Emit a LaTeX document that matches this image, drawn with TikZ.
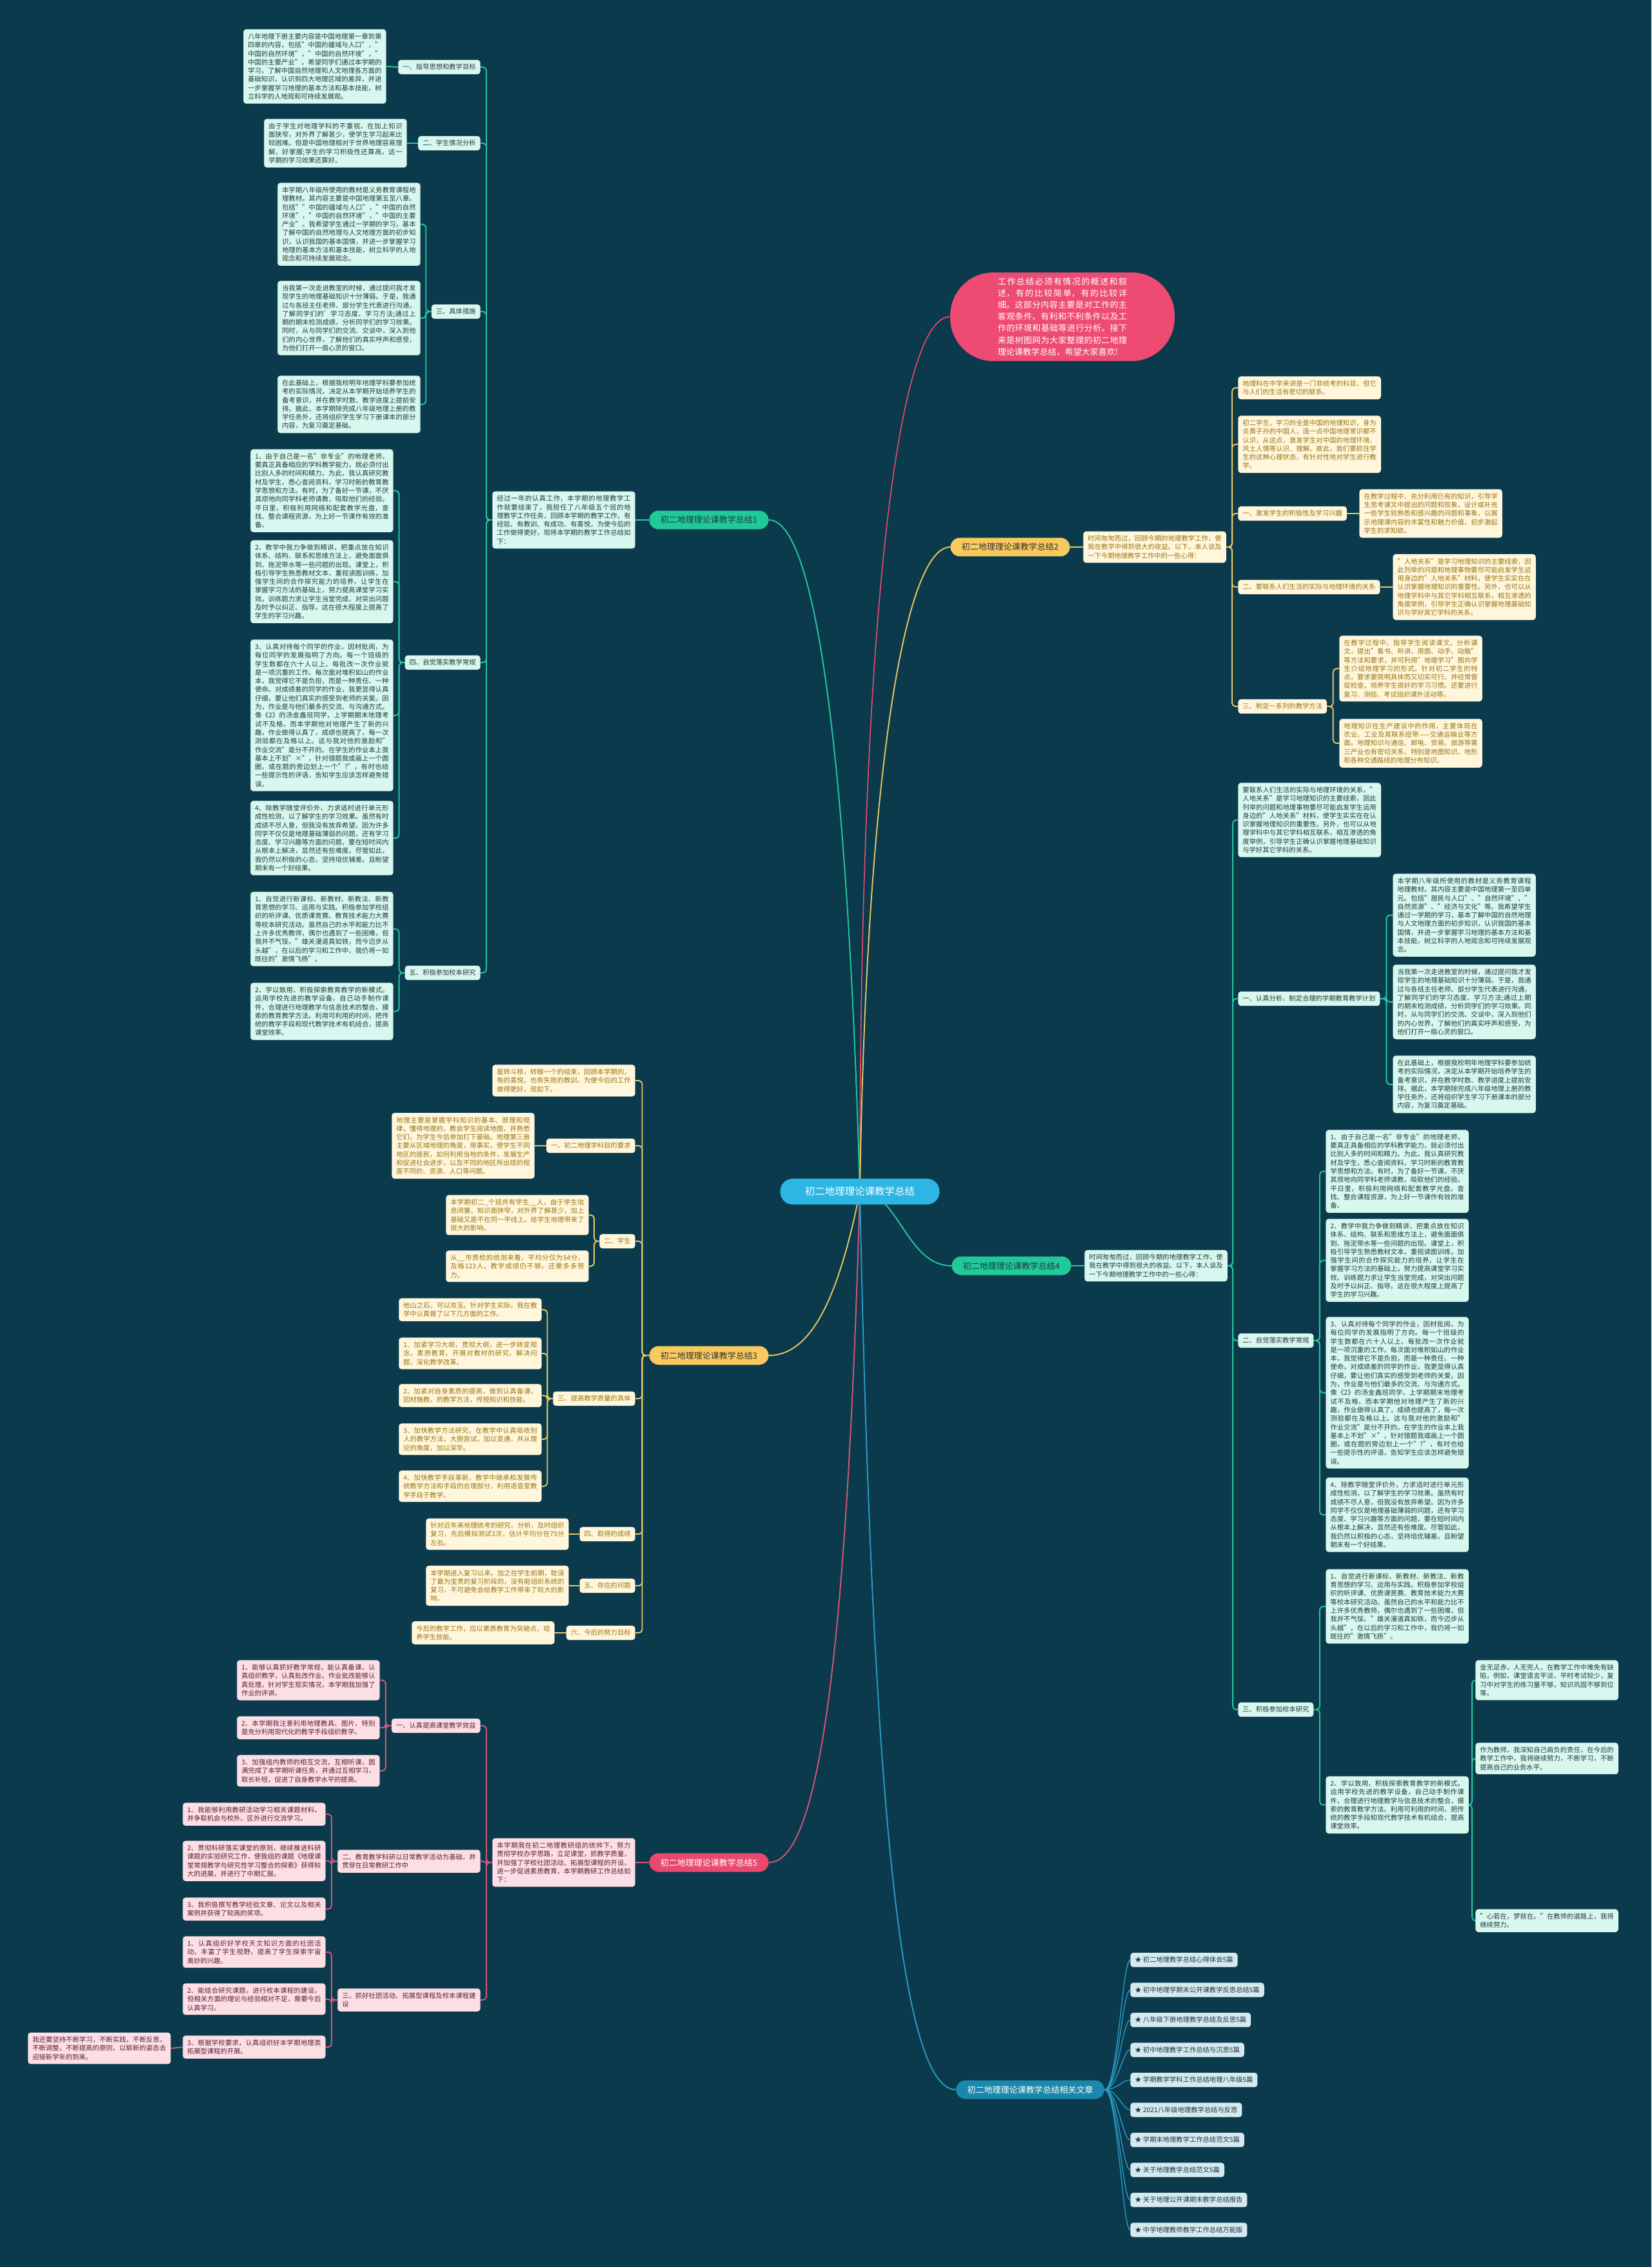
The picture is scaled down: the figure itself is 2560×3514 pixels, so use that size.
\documentclass[tikz,border=0pt]{standalone}
\usepackage{fontspec}
\setmainfont{Noto Sans CJK SC}
\XeTeXlinebreaklocale "zh"
\XeTeXlinebreakskip=0pt plus 0.5pt
\usetikzlibrary{positioning,calc}
\pgfdeclarelayer{back}
\pgfsetlayers{back,main}
\definecolor{night}{HTML}{0A3A4B}
\definecolor{minthub}{HTML}{20C99A}
\definecolor{mintpale}{HTML}{D8F7EE}
\definecolor{mintink}{HTML}{1F3B3E}
\definecolor{mintwire}{HTML}{26C69C}
\definecolor{goldhub}{HTML}{F8CA5E}
\definecolor{goldpale}{HTML}{FFF6DB}
\definecolor{goldink}{HTML}{9A7415}
\definecolor{goldwire}{HTML}{E6C564}
\definecolor{rosehub}{HTML}{E9496F}
\definecolor{rosepale}{HTML}{FCDEE5}
\definecolor{roseink}{HTML}{5B1F30}
\definecolor{rosewire}{HTML}{D4557A}
\definecolor{pinkhub}{HTML}{EE4B72}
\definecolor{bluehub}{HTML}{1C87AB}
\definecolor{bluepale}{HTML}{D5E9F0}
\definecolor{blueink}{HTML}{1E3440}
\definecolor{bluewire}{HTML}{2A9AC6}
\definecolor{cyanhub}{HTML}{2DB5E3}
\newcommand{\routineone}{1、由于自己是一名"非专业"的地理老师，要真正具备相应的学科教学能力，就必须付出比别人多的时间和精力。为此，我认真研究教材及学生，悉心查阅资料，学习时新的教育教学思想和方法。有时，为了备好一节课，不厌其烦地向同学科老师请教，吸取他们的经验。平日里，积极利用网络和配套教学光盘，查找、整合课程资源，为上好一节课作有效的准备。}
\newcommand{\routinetwo}{2、教学中我力争做到精讲，把重点放在知识体系、结构、联系和思维方法上，避免面面俱到、拖泥带水等一些问题的出现。课堂上，积极引导学生熟悉教材文本，重视读图训练，加强学生间的合作探究能力的培养，让学生在掌握学习方法的基础上，努力提高课堂学习实效。训练题力求让学生当堂完成，对突出问题及时予以纠正、指导。这在很大程度上提高了学生的学习兴趣。}
\newcommand{\routinethree}{3、认真对待每个同学的作业，因材批阅，为每位同学的发展指明了方向。每一个班级的学生数都在六十人以上，每批改一次作业就是一项沉重的工作。每次面对堆积如山的作业本，我觉得它不是负担，而是一种责任、一种使命。对成绩差的同学的作业，我更显得认真仔细，要让他们真实的感受到老师的关爱。因为，作业是与他们最多的交流、与沟通方式。像《2》的汤金鑫班同学，上学期期末地理考试不及格，而本学期他对地理产生了新的兴趣，作业做得认真了，成绩也提高了，每一次测验都在及格以上。这与我对他的激励和"作业交流"是分不开的。在学生的作业本上我基本上不划"×"，针对错题我或画上一个圆圈，或在题的旁边划上一个"?"，有时也给一些提示性的评语，告知学生应该怎样避免错误。}
\newcommand{\routinefour}{4、除教学随堂评价外，力求适时进行单元形成性检测，以了解学生的学习效果。虽然有时成绩不尽人意，但我没有放弃希望。因为许多同学不仅仅是地理基础薄弱的问题，还有学习态度、学习兴趣等方面的问题，要在短时间内从根本上解决，显然还有些难度。尽管如此，我仍然以积极的心态，坚持培优辅差。且盼望期末有一个好结果。}
\newcommand{\researchone}{1、自觉进行新课标、新教材、新教法、新教育思想的学习、运用与实践。积极参加学校组织的听评课、优质课竞赛、教育技术能力大赛等校本研究活动。虽然自己的水平和能力比不上许多优秀教师，偶尔也遇到了一些困难，但我并不气馁。"雄关漫道真如铁，而今迈步从头越"，在以后的学习和工作中，我仍将一如既往的"激情飞扬"。}
\newcommand{\researchtwo}{2、学以致用，积极探索教育教学的新模式。运用学校先进的教学设备，自己动手制作课件，合理进行地理教学与信息技术的整合，摸索的教育教学方法。利用可利用的时间，把传统的教学手段和现代教学技术有机结合，提高课堂效率。}
\newcommand{\plantwo}{当我第一次走进教室的时候，通过提问我才发现学生的地理基础知识十分薄弱。于是，我通过与各班主任老师、部分学生代表进行沟通，了解同学们的学习态度、学习方法;通过上期的期末检测成绩，分析同学们的学习效果。同时，从与同学们的交流、交谈中，深入到他们的内心世界，了解他们的真实呼声和感受，为他们打开一扇心灵的窗口。}
\newcommand{\planthree}{在此基础上，根据我校明年地理学科要参加统考的实际情况，决定从本学期开始培养学生的备考意识，并在教学时数、教学进度上提前安排。据此，本学期除完成八年级地理上册的教学任务外，还将组织学生学习下册课本的部分内容，为复习奠定基础。}
\newcommand{\springtext}{时间匆匆而过，回顾今期的地理教学工作，使我在教学中得到很大的收益。以下，本人谈及一下今期地理教学工作中的一些心得：}
\tikzset{
  card/.style={rectangle, rounded corners=2.5pt, inner xsep=4pt, inner ysep=3.6pt,
               font=\fontsize{5.86pt}{7.57pt}\selectfont},
  para/.style={text width=118pt, align=justify},
  gcard/.style={card, fill=mintpale, text=mintink},
  ycard/.style={card, fill=goldpale, text=goldink},
  rcard/.style={card, fill=rosepale, text=roseink},
  bcard/.style={card, fill=bluepale, text=blueink},
  hub/.style={rectangle, rounded corners=8.5pt, fill=#1, inner xsep=10pt, inner ysep=4.8pt,
              font=\fontsize{7.4pt}{9pt}\selectfont},
  wire/.style={draw=#1, line width=1.1pt, rounded corners=3pt},
  elbow/.style={to path={-| ($(\tikztostart)!.5!(\tikztotarget)$) |- (\tikztotarget)}},
}

\begin{document}
\begin{tikzpicture}[x=0.02cm, y=-0.02cm]
  \useasboundingbox (0,0) rectangle (2560,3514);

  % centre et introduction
  \node[hub=cyanhub, text=white, rounded corners=11pt, minimum width=4.94cm, minimum height=0.8cm,
        font=\fontsize{8.8pt}{10pt}\selectfont] (ctr) at (1333,1847) {初二地理理论课教学总结};
  \node[rectangle, rounded corners=38pt, fill=pinkhub, text=white, text width=114pt, align=justify,
        inner xsep=42pt, inner ysep=4.5pt, font=\fontsize{7.4pt}{10.36pt}\selectfont] (intro) at (1647,491)
        {工作总结必须有情况的概述和叙述，有的比较简单，有的比较详细。这部分内容主要是对工作的主客观条件、有利和不利条件以及工作的环境和基础等进行分析。接下来是树图网为大家整理的初二地理理论课教学总结，希望大家喜欢!};

  % branche 1
  \node[hub=minthub, text=mintink] (b1) at (1099,806) {初二地理理论课教学总结1};
  \node[gcard, para, anchor=east] (b1t) at (985,806) {经过一年的认真工作，本学期的地理教学工作就要结束了，我担任了八年级五个班的地理教学工作任务，回顾本学期的教学工作，有经验、有教训、有成功、有喜悦，为使今后的工作做得更好，现将本学期的教学工作总结如下：};
  \node[gcard, anchor=east] (b1a) at (745,104) {一、指导思想和教学目标};
  \node[gcard, para, anchor=east] (b1a1) at (599,103) {八年地理下册主要内容是中国地理第一章到第四章的内容，包括"中国的疆域与人口"，"中国的自然环境"，"中国的自然环境"，"中国的主要产业"，希望同学们通过本学期的学习，了解中国自然地理和人文地理各方面的基础知识，认识到四大地理区域的差异，并进一步掌握学习地理的基本方法和基本技能，树立科学的人地观和可持续发展观。};
  \node[gcard, anchor=east] (b1b) at (745,222) {二、学生情况分析};
  \node[gcard, para, anchor=east] (b1b1) at (631,222) {由于学生对地理学科的不重视，在加上知识面狭窄，对外界了解甚少，使学生学习起来比较困难。但是中国地理相对于世界地理容易理解，好掌握;学生的学习积极性还算高，这一学期的学习效果还算好。};
  \node[gcard, anchor=east] (b1c) at (745,483) {三、具体措施};
  \node[gcard, para, anchor=north east] (b1c1) at (652,283) {本学期八年级所使用的教材是义务教育课程地理教材。其内容主要是中国地理第五至八章。包括""中国的疆域与人口"，"中国的自然环境"，"中国的自然环境"，"中国的主要产业"。我希望学生通过一学期的学习，基本了解中国的自然地理与人文地理方面的初步知识，认识我国的基本国情，并进一步掌握学习地理的基本方法和基本技能，树立科学的人地观念和可持续发展观念。};
  \node[gcard, para, anchor=north east] (b1c2) at (652,435) {当我第一次走进教室的时候，通过提问我才发现学生的地理基础知识十分薄弱。于是，我通过与各班主任老师、部分学生代表进行沟通，了解同学们的'学习态度、学习方法;通过上期的期末检测成绩，分析同学们的学习效果。同时，从与同学们的交流、交谈中，深入到他们的内心世界，了解他们的真实呼声和感受，为他们打开一扇心灵的窗口。};
  \node[gcard, para, anchor=north east] (b1c3) at (652,582) {\planthree};
  \node[gcard, anchor=east] (b1d) at (745,1027) {四、自觉落实教学常规};
  \node[gcard, para, anchor=north east] (b1d1) at (610,696) {\routineone};
  \node[gcard, para, anchor=north east] (b1d2) at (610,837) {\routinetwo};
  \node[gcard, para, anchor=north east] (b1d3) at (610,991) {\routinethree};
  \node[gcard, para, anchor=north east] (b1d4) at (610,1241) {\routinefour};
  \node[gcard, anchor=east] (b1e) at (745,1508) {五、积极参加校本研究};
  \node[gcard, para, anchor=north east] (b1e1) at (610,1382) {\researchone};
  \node[gcard, para, anchor=north east] (b1e2) at (610,1523) {\researchtwo};

  % branche 2
  \node[hub=goldhub, text=black!80] (b2) at (1566,848) {初二地理理论课教学总结2};
  \node[ycard, para, anchor=west] (b2t) at (1679,848) {\springtext};
  \node[ycard, para, anchor=north west] (b2a) at (1919,583) {地理科在中学来讲是一门非统考的科目，但它与人们的生活有密切的联系。};
  \node[ycard, para, anchor=north west] (b2b) at (1919,644) {初二学生，学习的全是中国的地理知识，身为炎黄子孙的中国人，连一点中国地理常识都不认识，从这点，激发学生对中国的地理环境、风土人情等认识、理解。故此，我们要抓住学生的这种心理状态，有针对性地对学生进行教学。};
  \node[ycard, anchor=west] (b2c) at (1919,796) {一、激发学生的积极性及学习兴趣};
  \node[ycard, para, anchor=west] (b2c1) at (2107,796) {在教学过程中，充分利用已有的知识，引导学生思考课文中提出的问题和现象，设计或补充一些学生较熟悉和感兴趣的问题和事象，以展示地理课内容的丰富性和魅力价值，初步激起学生的求知欲。};
  \node[ycard, anchor=west] (b2d) at (1919,910) {二、要联系人们生活的实际与地理环境的关系};
  \node[ycard, para, anchor=west] (b2d1) at (2159,910) {"人地关系"是学习地理知识的主要线索，因此列举的问题和地理事物要尽可能启发学生运用身边的"人地关系"材料，使学生实实在在认识掌握地理知识的重要性。另外，也可以从地理学科中与其它学科相互联系，相互渗透的角度举例，引导学生正确认识掌握地理基础知识与学好其它学科的关系。};
  \node[ycard, anchor=west] (b2e) at (1919,1095) {三、制定一系列的教学方法};
  \node[ycard, para, anchor=north west] (b2e1) at (2076,985) {在教学过程中，指导学生阅读课文，分析课文，提出"看书、听讲、用图、动手、动脑"等方法和要求，并可利用"地理学习"图向学生介绍地理学习的形式。针对初二学生的特点，要求要简明具体而又切实可行。并经常督促检查，培养学生很好的学习习惯。还要进行复习、测验、考试组织课外活动等。};
  \node[ycard, para, anchor=north west] (b2e2) at (2076,1114) {地理知识在生产建设中的作用，主要体现在农业、工业及其联系纽带——交通运输业等方面。地理知识与通信、邮电、贸易、旅游等第三产业也有密切关系，特别是地图知识、地形和各种交通路线的地理分布知识。};

  % branche 3
  \node[hub=goldhub, text=black!80] (b3) at (1099,2101) {初二地理理论课教学总结3};
  \node[ycard, para, anchor=east] (b3o) at (985,1675) {星转斗移，转眼一个的结束，回顾本学期的，有的喜悦，也有失败的教训，为使今后的工作做得更好，现如下。};
  \node[ycard, anchor=east] (b3a) at (985,1776) {一、初二地理学科目的要求};
  \node[ycard, para, anchor=east] (b3a1) at (829,1776) {地理主要是掌握学科知识的基本、原理和规律，懂得地理的，教会学生阅读地图，并熟悉它们，为学生今后参加打下基础。地理第三册主要从区域地理的角度，用事实，使学生不同地区的居民，如何利用当地的条件，发展生产和促进社会进步，以及不同的地区所出现的程度不同的、资源、人口等问题。};
  \node[ycard, anchor=east] (b3b) at (985,1924) {二、学生};
  \node[ycard, para, anchor=north east] (b3b1) at (913,1852) {本学期初二\_个班共有学生\_\_人，由于学生信息闭塞，知识面狭窄，对外界了解甚少，加上基础又是不在同一平线上。给学生地理带来了很大的影响。};
  \node[ycard, para, anchor=north east] (b3b2) at (913,1938) {从\_\_市质检的统测来看，平均分仅为54分，及格123人，教学成绩仍不够，还需多多努力。};
  \node[ycard, anchor=east] (b3c) at (985,2168) {三、提高教学质量的具体};
  \node[ycard, para, anchor=north east] (b3c0) at (840,2012) {他山之石，可以攻玉。针对学生实际，我在教学中认真做了以下几方面的工作。};
  \node[ycard, para, anchor=north east] (b3c1) at (840,2073) {1、加紧学习大纲，贯彻大纲，进一步转变观念，素质教育，开展对教材的研究，解决问题，深化教学改革。};
  \node[ycard, para, anchor=north east] (b3c2) at (840,2145) {2、加紧对自身素质的提高，做到认真备课，因材施教，的教学方法，传授知识和技能。};
  \node[ycard, para, anchor=north east] (b3c3) at (840,2206) {3、加快教学方法研究，在教学中认真吸收别人的教学方法，大胆尝试，加以变通，并从理论的角度，加以深华。};
  \node[ycard, para, anchor=north east] (b3c4) at (840,2279) {4、加快教学手段革新，教学中继承和发展传统教学方法和手段的合理部分，利用语音室教学手段于教学。};
  \node[ycard, anchor=east] (b3d) at (985,2378) {四、取得的成绩};
  \node[ycard, para, anchor=east] (b3d1) at (882,2378) {针对近年来地理统考的研究、分析，及时组织复习，先后模拟测试3次，估计平均分在75分左右。};
  \node[ycard, anchor=east] (b3e) at (985,2458) {五、存在的问题};
  \node[ycard, para, anchor=east] (b3e1) at (882,2458) {本学期进入复习以来，加之在学生前期，耽误了最为宝贵的复习阶段的，没有能组织系统的复习，不可避免会给教学工作带来了较大的影响。};
  \node[ycard, anchor=east] (b3f) at (985,2531) {六、今后的努力目标};
  \node[ycard, para, anchor=east] (b3f1) at (860,2531) {今后的教学工作，应以素质教育为突破点，培养学生技能。};

  % branche 4
  \node[hub=minthub, text=mintink] (b4) at (1568,1962) {初二地理理论课教学总结4};
  \node[gcard, para, anchor=west] (b4t) at (1681,1962) {\springtext};
  \node[gcard, para, anchor=north west] (b4a) at (1919,1213) {要联系人们生活的实际与地理环境的关系，"人地关系"是学习地理知识的主要线索，因此列举的问题和地理事物要尽可能启发学生运用身边的"人地关系"材料，使学生实实在在认识掌握地理知识的重要性。另外，也可以从地理学科中与其它学科相互联系，相互渗透的角度举例，引导学生正确认识掌握地理基础知识与学好其它学科的关系。};
  \node[gcard, anchor=west] (b4b) at (1919,1548) {一、认真分析、制定合理的学期教育教学计划};
  \node[gcard, para, anchor=north west] (b4b1) at (2159,1354) {本学期八年级所使用的教材是义务教育课程地理教材。其内容主要是中国地理第一至四单元。包括"居民与人口"、"自然环境"、"自然资源"、"经济与文化"等。我希望学生通过一学期的学习，基本了解中国的自然地理与人文地理方面的初步知识，认识我国的基本国情，并进一步掌握学习地理的基本方法和基本技能，树立科学的人地观念和可持续发展观念。};
  \node[gcard, para, anchor=north west] (b4b2) at (2159,1495) {\plantwo};
  \node[gcard, para, anchor=north west] (b4b3) at (2159,1636) {\planthree};
  \node[gcard, anchor=west] (b4c) at (1919,2078) {二、自觉落实教学常规};
  \node[gcard, para, anchor=north west] (b4c1) at (2055,1751) {\routineone};
  \node[gcard, para, anchor=north west] (b4c2) at (2055,1889) {\routinetwo};
  \node[gcard, para, anchor=north west] (b4c3) at (2055,2041) {\routinethree};
  \node[gcard, para, anchor=north west] (b4c4) at (2055,2290) {\routinefour};
  \node[gcard, anchor=west] (b4d) at (1919,2650) {三、积极参加校本研究};
  \node[gcard, para, anchor=north west] (b4d1) at (2055,2432) {\researchone};
  \node[gcard, para, anchor=north west] (b4d2) at (2055,2753) {\researchtwo};
  \node[gcard, para, anchor=north west] (b4d21) at (2287,2573) {金无足赤，人无完人，在教学工作中难免有缺陷，例如，课堂语言平淡，平时考试较少，复习中对学生的练习量不够，知识巩固不够到位等。};
  \node[gcard, para, anchor=north west] (b4d22) at (2287,2701) {作为教师，我深知自己肩负的责任，在今后的教学工作中，我将继续努力，不断学习，不断提高自己的业务水平。};
  \node[gcard, para, anchor=north west] (b4d23) at (2287,2959) {"心若在，梦就在。"在教师的道路上，我将继续努力。};

  % branche 5
  \node[hub=rosehub, text=white] (b5) at (1099,2887) {初二地理理论课教学总结5};
  \node[rcard, para, anchor=east] (b5t) at (985,2887) {本学期我在初二地理教研组的统帅下，努力贯彻学校办学思路，立足课堂，抓教学质量，并加强了学校社团活动、拓展型课程的开设，进一步促进素质教育，本学期教研工作总结如下：};
  \node[rcard, anchor=east] (b5a) at (745,2675) {一、认真提高课堂教学效益};
  \node[rcard, para, anchor=north east] (b5a1) at (589,2573) {1、能够认真抓好教学常规，能认真备课，认真组织教学，认真批改作业。作业批改能够认真处理，针对学生现实情况，本学期我加强了作业的评讲。};
  \node[rcard, para, anchor=north east] (b5a2) at (589,2660) {2、本学期我注意利用地理教具、图片，特别是充分利用现代化的教学手段组织教学。};
  \node[rcard, para, anchor=north east] (b5a3) at (589,2720) {3、加强组内教师的相互交流，互相听课，圆满完成了本学期听课任务，并通过互相学习，取长补短，促进了自身教学水平的提高。};
  \node[rcard, para, anchor=east] (b5b) at (745,2885) {二、教育教学科研以日常教学活动为基础，并贯穿在日常教研工作中};
  \node[rcard, para, anchor=north east] (b5b1) at (505,2794) {1、我能够利用教研活动学习相关课题材料，并争取机会与校外、区外进行交流学习。};
  \node[rcard, para, anchor=north east] (b5b2) at (505,2853) {2、贯彻科研落实课堂的原则，继续推进科研课题的实验研究工作，使我组的课题《地理课堂常规教学与研究性学习整合的探索》获得较大的进展，并进行了中期汇报。};
  \node[rcard, para, anchor=north east] (b5b3) at (505,2941) {3、我积极撰写教学经验文章、论文以及相关案例并获得了较高的奖项。};
  \node[rcard, para, anchor=east] (b5c) at (745,3100) {三、抓好社团活动、拓展型课程及校本课程建设};
  \node[rcard, para, anchor=north east] (b5c1) at (505,3001) {1、认真组织好学校天文知识方面的社团活动，丰富了学生视野，提高了学生探索宇宙奥妙的兴趣。};
  \node[rcard, para, anchor=north east] (b5c2) at (505,3074) {2、能结合研究课题，进行校本课程的建设，但相关方面的理论与经验相对不足，需要今后认真学习。};
  \node[rcard, para, anchor=north east] (b5c3) at (505,3155) {3、根据学校要求，认真组织好本学期地理类拓展型课程的开展。};
  \node[rcard, para, anchor=east] (b5c31) at (265,3175) {我还要坚持不断学习，不断实践，不断反思，不断调整，不断提高的原则，以崭新的姿态去迎接新学年的到来。};

  % articles liés
  \node[hub=bluehub, text=white] (b6) at (1597,3239) {初二地理理论课教学总结相关文章};
  \foreach \t [count=\i] in {初二地理教学总结心得体会5篇, 初中地理学期末公开课教学反思总结5篇,
      八年级下册地理教学总结及反思5篇, 初中地理教学工作总结与沉思5篇, 学期教学学科工作总结地理八年级5篇,
      2021八年级地理教学总结与反思, 学期末地理教学工作总结范文5篇, 关于地理教学总结范文5篇,
      关于地理公开课期末教学总结报告, 中学地理教师教学工作总结万能版}
    \node[bcard, anchor=west] (r\i) at (1752,{3038+46.5*(\i-1)}) {★ \t};

  \begin{pgfonlayer}{back}
    \fill[night] (0,0) rectangle (2560,3514);
    % du centre vers les branches
    \draw[wire=mintwire] (ctr.center) .. controls +(-20,-700) and +(70,0) .. (b1.east);
    \draw[wire=pinkhub, line width=0.9pt] (ctr.center) .. controls +(0,-900) and +(-80,0) .. (intro.west);
    \draw[wire=goldwire] (ctr.center) .. controls +(10,-650) and +(-70,0) .. (b2.west);
    \draw[wire=goldwire] (ctr.center) .. controls +(-30,150) and +(70,0) .. (b3.east);
    \draw[wire=mintwire] (ctr.center) .. controls +(60,0) and +(-70,0) .. (b4.west);
    \draw[wire=rosewire] (ctr.center) .. controls +(-20,700) and +(80,0) .. (b5.east);
    \draw[wire=bluewire] (ctr.center) .. controls +(20,1000) and +(-80,0) .. (b6.west);
    % branche 1
    \draw[wire=mintwire] (b1.west) -- (b1t.east);
    \foreach \s in {b1a,b1b,b1c,b1d,b1e} \draw[wire=mintwire] (b1t.west) to[elbow] (\s.east);
    \draw[wire=mintwire] (b1a.west) -- (b1a1.east);
    \draw[wire=mintwire] (b1b.west) -- (b1b1.east);
    \foreach \s in {b1c1,b1c2,b1c3} \draw[wire=mintwire] (b1c.west) to[elbow] (\s.east);
    \foreach \s in {b1d1,b1d2,b1d3,b1d4} \draw[wire=mintwire] (b1d.west) to[elbow] (\s.east);
    \foreach \s in {b1e1,b1e2} \draw[wire=mintwire] (b1e.west) to[elbow] (\s.east);
    % branche 2
    \draw[wire=goldwire] (b2.east) -- (b2t.west);
    \foreach \s in {b2a,b2b,b2c,b2d,b2e} \draw[wire=goldwire] (b2t.east) to[elbow] (\s.west);
    \draw[wire=goldwire] (b2c.east) -- (b2c1.west);
    \draw[wire=goldwire] (b2d.east) -- (b2d1.west);
    \foreach \s in {b2e1,b2e2} \draw[wire=goldwire] (b2e.east) to[elbow] (\s.west);
    % branche 3
    \foreach \s in {b3o,b3a,b3b,b3c,b3d,b3e,b3f} \draw[wire=goldwire] (b3.west) to[elbow] (\s.east);
    \draw[wire=goldwire] (b3a.west) -- (b3a1.east);
    \foreach \s in {b3b1,b3b2} \draw[wire=goldwire] (b3b.west) to[elbow] (\s.east);
    \foreach \s in {b3c0,b3c1,b3c2,b3c3,b3c4} \draw[wire=goldwire] (b3c.west) to[elbow] (\s.east);
    \draw[wire=goldwire] (b3d.west) -- (b3d1.east);
    \draw[wire=goldwire] (b3e.west) -- (b3e1.east);
    \draw[wire=goldwire] (b3f.west) -- (b3f1.east);
    % branche 4
    \draw[wire=mintwire] (b4.east) -- (b4t.west);
    \foreach \s in {b4a,b4b,b4c,b4d} \draw[wire=mintwire] (b4t.east) to[elbow] (\s.west);
    \foreach \s in {b4b1,b4b2,b4b3} \draw[wire=mintwire] (b4b.east) to[elbow] (\s.west);
    \foreach \s in {b4c1,b4c2,b4c3,b4c4} \draw[wire=mintwire] (b4c.east) to[elbow] (\s.west);
    \foreach \s in {b4d1,b4d2} \draw[wire=mintwire] (b4d.east) to[elbow] (\s.west);
    \foreach \s in {b4d21,b4d22,b4d23} \draw[wire=mintwire] (b4d2.east) to[elbow] (\s.west);
    % branche 5
    \draw[wire=rosewire] (b5.west) -- (b5t.east);
    \foreach \s in {b5a,b5b,b5c} \draw[wire=rosewire] (b5t.west) to[elbow] (\s.east);
    \foreach \s in {b5a1,b5a2,b5a3} \draw[wire=rosewire] (b5a.west) to[elbow] (\s.east);
    \foreach \s in {b5b1,b5b2,b5b3} \draw[wire=rosewire] (b5b.west) to[elbow] (\s.east);
    \foreach \s in {b5c1,b5c2,b5c3} \draw[wire=rosewire] (b5c.west) to[elbow] (\s.east);
    \draw[wire=rosewire] (b5c3.west) -- (b5c31.east);
    % articles liés
    \foreach \i in {1,...,10}
      \draw[wire=bluewire, line width=0.8pt] (b6.east) .. controls +(20,0) and +(-12,0) .. (r\i.west);
  \end{pgfonlayer}
\end{tikzpicture}
\end{document}
